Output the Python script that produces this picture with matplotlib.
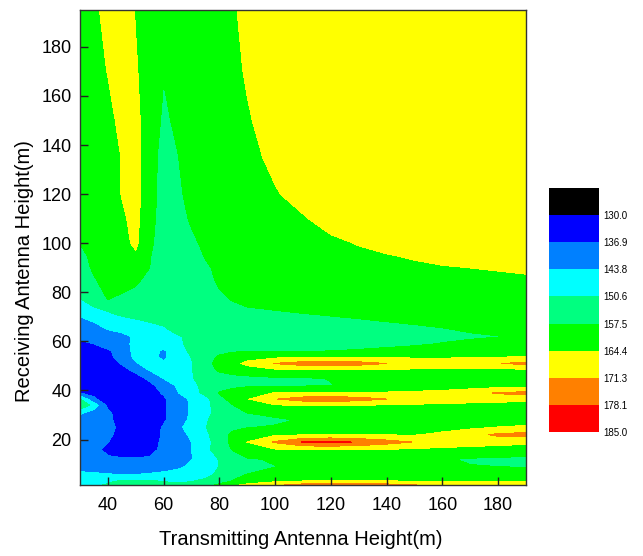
import matplotlib
matplotlib.use('Agg')
import matplotlib.pyplot as plt
import numpy as np

# ---- data ----
tx_height = [30, 35, 40, 45, 50, 55, 60, 65, 70, 75, 80, 85, 90,
             100, 110, 120, 130, 140, 150, 160, 170, 180, 190]
rx_height = [1.5, 3, 6, 9, 12, 16, 19, 22, 25, 28, 31, 34, 36.5, 39, 42, 45,
             48.5, 51, 53.5, 56, 59, 62, 65, 68, 71, 74, 77, 80, 85, 90, 95,
             100, 110, 120, 135, 150, 170, 195]

# path loss values, one row per receiving height (bottom to top)
loss_rows = [
    [149, 150, 151, 153, 154, 153, 152, 151.5, 152, 155, 159, 163, 166, 170, 174, 175, 175, 174, 171.5, 169, 168.5, 168.5, 168.5],
    [148, 149, 150, 151.5, 152, 151.5, 150.5, 150, 150.5, 152, 155, 158, 161, 163.5, 164.6, 164.8, 164.8, 164.6, 164.5, 164.4, 164.3, 164.3, 164.3],
    [145, 144.5, 143.8, 143.5, 143.5, 144, 144.5, 145, 146, 148.5, 152, 155.5, 157.5, 159, 160, 160.5, 160.5, 160.5, 160, 159.5, 159, 158.8, 158.8],
    [141, 140.5, 140, 140, 140.5, 141, 142, 143, 144.5, 147, 150.8, 154, 156, 157.4, 158.5, 159.5, 160, 160, 159.5, 158.5, 157.7, 157.5, 157.3],
    [140.5, 139.5, 138, 137.5, 137.5, 138, 140.5, 142.5, 143.6, 147, 151, 155, 157, 158, 159, 160, 160.5, 160.3, 159.5, 158, 157, 156.5, 156.3],
    [140.5, 139, 135, 133.5, 133, 134, 139, 142, 143.6, 148.5, 154.5, 158, 161, 164, 164.5, 164.6, 164.5, 164.3, 163.5, 162.5, 162, 161.5, 161],
    [140.5, 140, 137, 134.5, 133.5, 134.5, 138, 142, 143.8, 148, 154, 159.5, 164.5, 172, 178.5, 180, 177.5, 174, 171, 170, 168, 167, 166],
    [140.5, 140, 138, 135, 133.5, 134.5, 137.5, 142, 144.5, 149, 155, 159, 161.5, 163.5, 164, 164.2, 164, 164, 164, 165.5, 169, 172.5, 173.5],
    [140.5, 140, 139, 135, 133, 134, 137.5, 142.5, 146, 150.3, 154, 156, 157.3, 158, 159.5, 160.5, 161, 161.5, 162, 162.5, 163, 164.6, 165.5],
    [140.5, 140, 138.5, 134, 133, 133.5, 136, 141, 145, 150, 153, 154.5, 155.5, 156.5, 158, 159.5, 160.5, 161, 161, 161, 161, 161, 161],
    [145, 141, 138, 134, 133, 133.5, 136, 140.5, 144.5, 148.5, 153, 156, 157.6, 159.5, 161, 161.5, 161.5, 161.5, 161, 160.5, 160.5, 160.5, 160.5],
    [157, 148, 135, 133, 133, 133.5, 136, 140.5, 144.5, 148.5, 154, 157.5, 160, 164, 164.5, 164.5, 164.3, 164, 163.5, 163, 162.5, 162, 161.5],
    [151, 138, 133, 132.5, 133, 133.5, 136, 140.5, 145, 148.5, 155.5, 160, 164, 171, 174.5, 175.3, 174, 171.3, 169, 168, 167.5, 167, 166],
    [137, 135, 133.5, 133, 133.5, 134.5, 137.5, 143.5, 147.5, 152.5, 158, 160, 163, 164.5, 165, 165, 165, 165, 165.5, 166.5, 168.5, 172, 173],
    [131, 131, 131, 131.5, 132.5, 135, 140, 144.5, 149, 152.5, 155, 156, 156.5, 156.5, 157, 157.4, 158.5, 160, 160.5, 160.5, 161, 161.5, 162],
    [131.5, 131.5, 131.5, 132, 134, 138.5, 144, 146, 150, 153.5, 155, 155.5, 156, 156.8, 157.2, 157.6, 158.5, 160.5, 161, 161, 161, 161, 161],
    [132, 132, 132.5, 134.5, 139, 144.5, 146.5, 148.5, 150.3, 155, 158.5, 160.5, 161.5, 163.8, 164.2, 164.3, 164.2, 164, 163.8, 163.6, 163.5, 163.5, 163.5],
    [132.5, 132.5, 133.5, 137.5, 143.3, 145.5, 145, 147.5, 150.2, 155.5, 159.5, 162.5, 166, 171.5, 174.5, 175, 174, 171.3, 169, 168.5, 169.5, 171, 173],
    [133, 133.3, 134.5, 140, 145, 146, 142.5, 148, 150.7, 155, 158.5, 160.5, 162, 163.5, 163.8, 164, 164, 163.8, 163.8, 163.8, 164, 164.5, 165],
    [134, 134.5, 136, 139.5, 146, 146.5, 142.5, 148.5, 151.5, 154, 156, 157, 157.2, 157.2, 157.4, 157.6, 158, 158.5, 159, 159.5, 160, 160, 160],
    [135.8, 136.9, 139.5, 142, 145, 146.5, 147.5, 149.5, 152, 153, 153.5, 153.5, 154, 154.5, 155, 155.5, 156, 156.5, 157, 157.7, 158.3, 158.7, 159],
    [138, 139.5, 141, 142.5, 144.5, 146.5, 148.5, 150.2, 151.5, 152.5, 153, 153, 153, 153.5, 154, 154.5, 155, 155.5, 156, 156.5, 157, 157.4, 158],
    [139, 141, 144, 145, 146.5, 148, 150, 152, 152.5, 153, 153, 153, 153.5, 154, 154.5, 155, 155.5, 156, 156.7, 157.3, 158, 158.5, 159],
    [142, 144, 145.5, 148, 149.5, 150.8, 151.5, 151.5, 151.5, 152, 152.5, 153, 153.5, 154.5, 155.5, 156.5, 157, 157.5, 158, 158.5, 159, 159.5, 160],
    [144.5, 146.5, 149.5, 151.5, 152.5, 152.5, 152, 151.5, 151.5, 152, 153, 154, 155, 156.5, 157.3, 157.8, 158.2, 158.6, 159, 159.4, 159.8, 160.2, 160.5],
    [148, 150.6, 152.5, 153, 153, 152, 151.5, 151, 151, 152, 154, 156, 157.5, 158.3, 158.8, 159.2, 159.6, 160, 160.3, 160.6, 161, 161.2, 161.5],
    [150.3, 153, 157.6, 155.5, 154, 152.5, 151.5, 151, 151.5, 153, 156, 158, 158.5, 159, 159.5, 159.8, 160, 160.3, 160.6, 161, 161.3, 161.5, 161.8],
    [152, 155.5, 158.5, 157.8, 156, 153.5, 152, 151.5, 152, 154, 157.2, 158.5, 159, 159.5, 160, 160.3, 160.6, 161, 161.3, 161.6, 162, 162.3, 162.5],
    [153, 157, 159.5, 160, 159, 155, 152, 151.5, 152.5, 155.5, 158.5, 159, 159.5, 160, 160.5, 161, 161.5, 162, 162.5, 162.8, 163.2, 163.5, 163.8],
    [154.5, 158.5, 160, 161, 161, 157.5, 152.5, 152, 153, 156.5, 159, 159.5, 160, 160.5, 161.5, 162, 162.7, 163.2, 163.7, 164.1, 164.4, 164.7, 165],
    [156, 159, 160, 161.5, 163.5, 158, 153, 152.5, 154.5, 158, 159.5, 160, 160.5, 161, 162, 162.8, 163.6, 164.2, 164.8, 165.5, 166, 166.5, 166.5],
    [157.6, 159, 160.5, 162.5, 165.5, 159, 153.5, 153, 156, 159, 160, 160.5, 161, 161.5, 162.5, 163.5, 164.6, 165.5, 166.5, 167, 167.5, 167.5, 167.5],
    [160, 160, 161, 163.5, 166, 160, 154, 154.5, 158.5, 159.8, 160.5, 161, 161.5, 162.5, 164, 166, 168, 168, 168, 168, 168, 168, 168],
    [160, 160, 161.5, 164.6, 166.5, 160.5, 154.5, 156, 160, 160.5, 161, 161.5, 162, 164, 166, 168, 168, 168, 168, 168, 168, 168, 168],
    [160, 160, 161.5, 164.6, 166.5, 160.5, 155, 157.3, 159.8, 160.5, 161.5, 162, 163, 165.5, 168, 168, 168, 168, 168, 168, 168, 168, 168],
    [160, 160.5, 162, 166.5, 166, 161, 156.5, 158.5, 160, 161, 162, 162.8, 163.8, 167, 168, 168, 168, 168, 168, 168, 168, 168, 168],
    [160, 161, 164.7, 168, 165, 161, 157.8, 159.5, 160, 161, 162, 163, 165, 168, 168, 168, 168, 168, 168, 168, 168, 168, 168],
    [160, 162, 168, 168, 164, 161, 160, 160, 160, 161, 162, 163.8, 166, 168, 168, 168, 168, 168, 168, 168, 168, 168, 168],
]

levels = [123.125, 130.0, 136.875, 143.75, 150.625, 157.5, 164.375, 171.25, 178.125, 185.0]
level_labels = ['130.0', '136.9', '143.8', '150.6', '157.5', '164.4', '171.3', '178.1', '185.0']
band_colors = ['#000000', '#0000ff', '#0080ff', '#00ffff', '#00ff80',
               '#00ff00', '#ffff00', '#ff8000', '#ff0000']
x_ticks = [40, 60, 80, 100, 120, 140, 160, 180]
y_ticks = [20, 40, 60, 80, 100, 120, 140, 160, 180]

plt.rcParams['font.family'] = ['Liberation Sans Narrow', 'Liberation Sans', 'DejaVu Sans']

fig = plt.figure(figsize=(6.43, 5.56), dpi=100)
ax = fig.add_axes([0.1244, 0.1277, 0.6936, 0.8543])

X, Y = np.meshgrid(np.array(tx_height), np.array(rx_height))
Z = np.array(loss_rows)
cf = ax.contourf(X, Y, Z, levels=levels, colors=band_colors)

ax.set_xlim(30, 190)
ax.set_ylim(1.5, 195)
ax.set_xticks(x_ticks)
ax.set_yticks(y_ticks)
ax.tick_params(direction='in', length=6, width=1, labelsize=13,
               colors='#222222', labelcolor='black')
ax.tick_params(axis='x', pad=9)
ax.tick_params(axis='y', pad=6)
for s in ax.spines.values():
    s.set_color('#333333')
    s.set_linewidth(1)
ax.set_xlabel('Transmitting Antenna Height(m)', fontsize=14.5)
ax.set_ylabel('Receiving Antenna Height(m)', fontsize=14.5)
ax.xaxis.set_label_coords(0.495, -0.094)
ax.yaxis.set_label_coords(-0.104, 0.45)

cax = fig.add_axes([0.8538, 0.223, 0.0778, 0.4388])
cb = fig.colorbar(cf, cax=cax)
cax.invert_yaxis()
cb.set_ticks(levels[1:])
cb.set_ticklabels(level_labels)
cb.outline.set_visible(False)
cax.tick_params(length=0, labelsize=7, pad=3)

fig.savefig('out.png', dpi=100)
